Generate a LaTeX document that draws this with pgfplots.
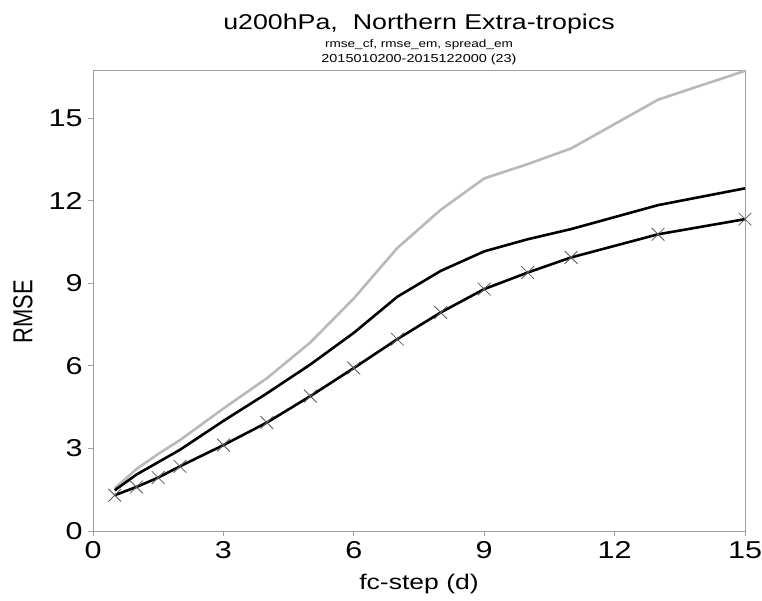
\documentclass[border=0pt]{standalone}
\usepackage{fontspec}
\setmainfont{Liberation Sans}[FakeStretch=1.25]
\newfontfamily\plainfont{Liberation Sans}
\usepackage{graphicx}
\usepackage{pgfplots}
\pgfplotsset{compat=1.18}
\pgfplotstableread{
x    cf     em     sp
0.5  1.55   1.48   1.30
1    2.25   2.05   1.60
1.5  2.80   2.50   1.94
2    3.30   2.95   2.35
3    4.45   4.00   3.12
4    5.55   5.00   3.94
5    6.85   6.05   4.90
6    8.45   7.20   5.92
7    10.28  8.51   6.97
8    11.67  9.45   7.94
9    12.81  10.16  8.79
10   13.33  10.60  9.39
11   13.90  10.97  9.94
13   15.67  11.84  10.78
15   16.72  12.45  11.33
}\datatable
\begin{document}
\begin{tikzpicture}
\useasboundingbox (0,0) rectangle (762bp,601bp);
\begin{axis}[
  at={(93bp,70bp)}, anchor=south west,
  scale only axis, width=652bp, height=461bp,
  xmin=0, xmax=15, ymin=0, ymax=16.75,
  xtick={0,3,...,15}, ytick={0,3,...,15},
  tick align=outside, xtick pos=left, ytick pos=left,
  major tick length=5bp,
  axis line style={gray!75, line width=0.8bp},
  every tick/.style={gray!75, line width=0.8bp},
  tick label style={font=\fontsize{24.5}{28}\selectfont},
  /pgf/number format/assume math mode=true,
  xticklabel style={yshift=-2bp},
  yticklabel style={xshift=-2bp},
]
\addplot[color={rgb,255:red,185;green,185;blue,185}, line width=2.6bp] table[x=x,y=cf] {\datatable};
\addplot[black, line width=2.6bp] table[x=x,y=em] {\datatable};
\addplot[black, line width=2.6bp, mark=x, mark size=9bp,
  mark options={color={rgb,255:red,90;green,90;blue,90}, line width=0.8bp}] table[x=x,y=sp] {\datatable};
\end{axis}
\node[anchor=base] at (419bp,571bp) {\fontsize{21.5}{24}\selectfont u200hPa,\ \ Northern Extra-tropics};
\node[anchor=base] at (419bp,553bp) {\fontsize{10.9}{12}\selectfont rmse\_cf, rmse\_em, spread\_em};
\node[anchor=base] at (419bp,538bp) {\fontsize{11.6}{13}\selectfont 2015010200-2015122000 (23)};
\node[anchor=base] at (419bp,12bp) {\fontsize{21.3}{24}\selectfont fc-step (d)};
\node[rotate=90] at (23bp,289bp) {\plainfont\fontsize{22}{24}\selectfont\scalebox{1}[1.25]{RMSE}};
\end{tikzpicture}
\end{document}
